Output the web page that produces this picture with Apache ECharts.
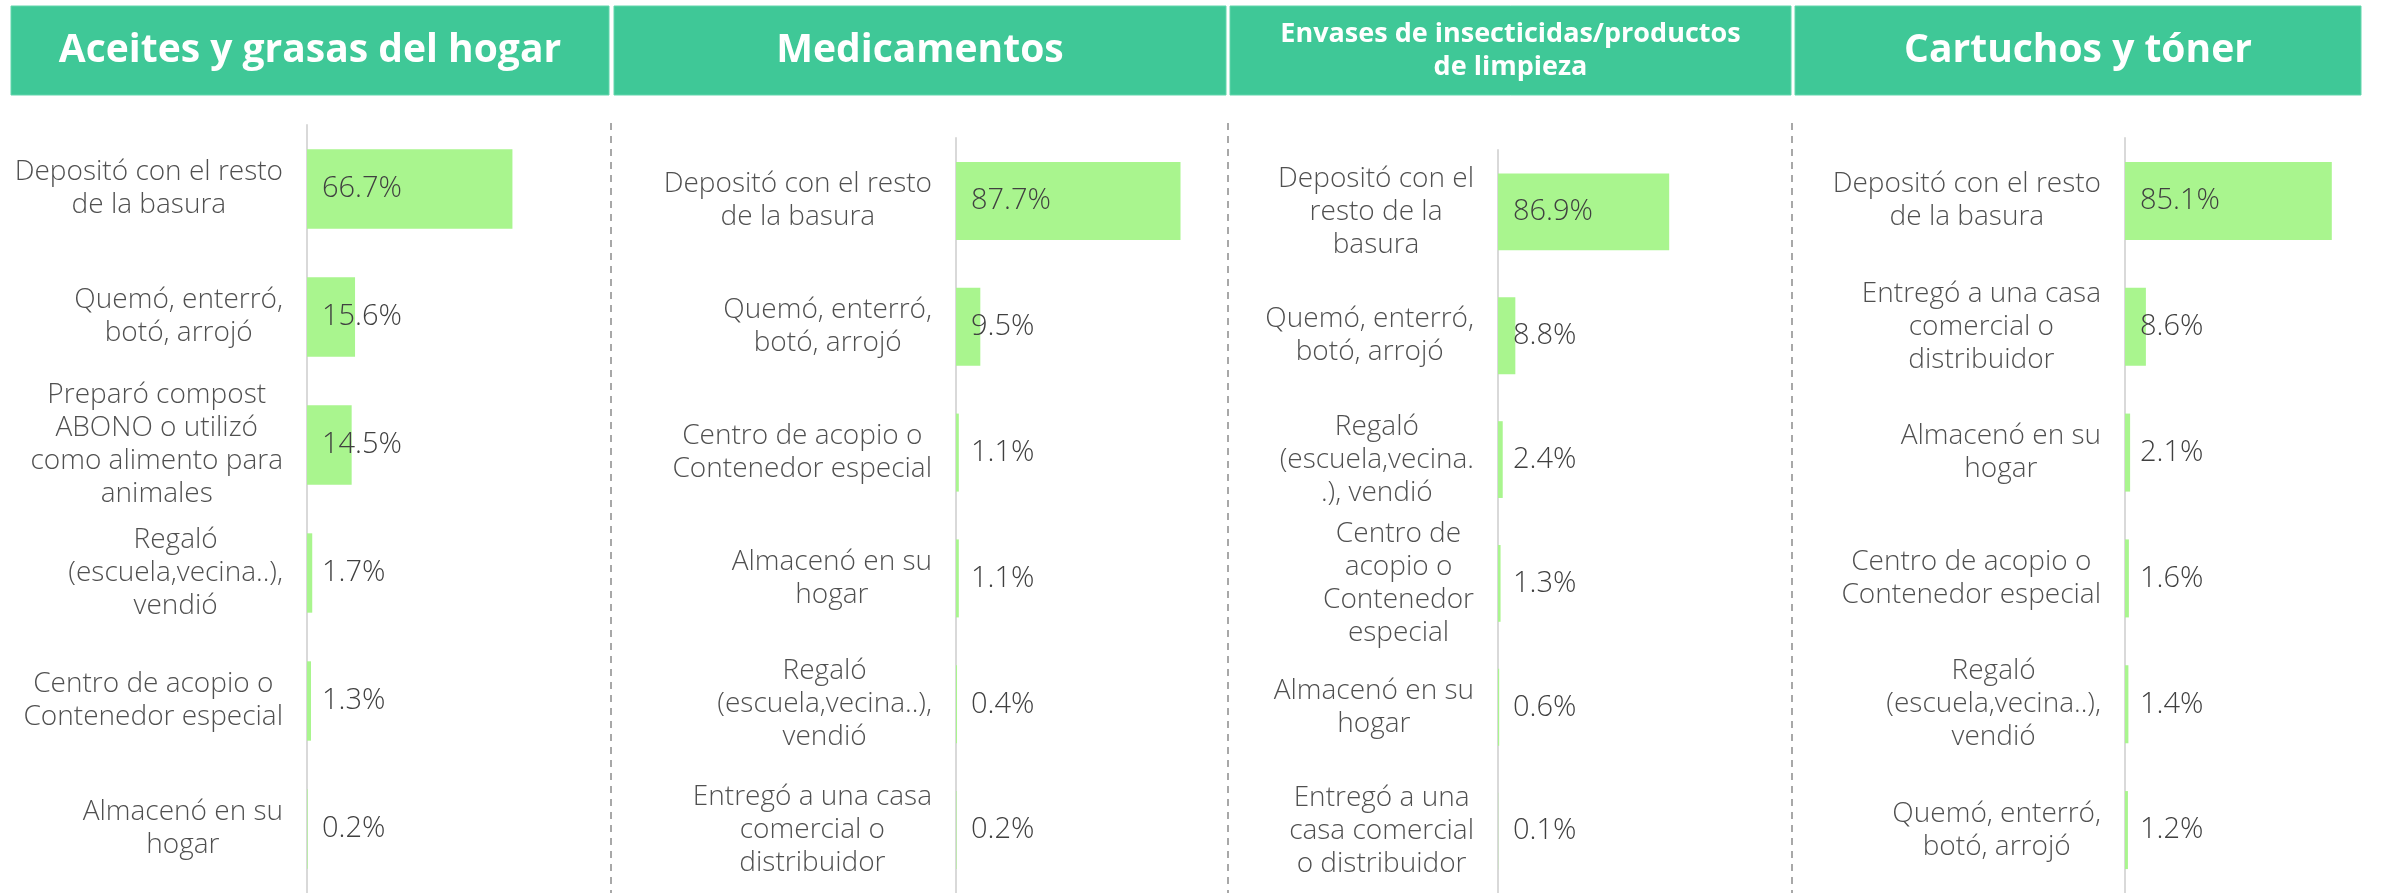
<!DOCTYPE html>
<html>
<head>
<meta charset="utf-8">
<script src="https://cdn.jsdelivr.net/npm/echarts@6/dist/echarts.min.js"></script>
<style>
  html, body { margin: 0; padding: 0; background: #fff; }
  #chart { width: 2387px; height: 893px; }
</style>
</head>
<body>
<div id="chart"></div>
<script>
// panel titles
var titles = [
  'Aceites y grasas del hogar',
  'Medicamentos',
  'Envases de insecticidas/productos\nde limpieza',
  'Cartuchos y tóner'
];

// Aceites y grasas del hogar
var aceitesCats = [
  'Depositó con el resto\nde la basura',
  'Quemó, enterró,\nbotó, arrojó',
  'Preparó compost\nABONO o utilizó\ncomo alimento para\nanimales',
  'Regaló\n(escuela,vecina..),\nvendió',
  'Centro de acopio o\nContenedor especial',
  'Almacenó en su\nhogar'
];
var aceitesVals = [66.7, 15.6, 14.5, 1.7, 1.3, 0.2];

// Medicamentos
var medCats = [
  'Depositó con el resto\nde la basura',
  'Quemó, enterró,\nbotó, arrojó',
  'Centro de acopio o\nContenedor especial',
  'Almacenó en su\nhogar',
  'Regaló\n(escuela,vecina..),\nvendió',
  'Entregó a una casa\ncomercial o\ndistribuidor'
];
var medVals = [87.7, 9.5, 1.1, 1.1, 0.4, 0.2];

// Envases de insecticidas/productos de limpieza
var envasesCats = [
  'Depositó con el\nresto de la\nbasura',
  'Quemó, enterró,\nbotó, arrojó',
  'Regaló\n(escuela,vecina.\n.), vendió',
  'Centro de\nacopio o\nContenedor\nespecial',
  'Almacenó en su\nhogar',
  'Entregó a una\ncasa comercial\no distribuidor'
];
var envasesVals = [86.9, 8.8, 2.4, 1.3, 0.6, 0.1];

// Cartuchos y tóner
var cartuchosCats = [
  'Depositó con el resto\nde la basura',
  'Entregó a una casa\ncomercial o\ndistribuidor',
  'Almacenó en su\nhogar',
  'Centro de acopio o\nContenedor especial',
  'Regaló\n(escuela,vecina..),\nvendió',
  'Quemó, enterró,\nbotó, arrojó'
];
var cartuchosVals = [85.1, 8.6, 2.1, 1.6, 1.4, 1.2];

var panels = [
  { cats: aceitesCats, vals: aceitesVals },
  { cats: medCats, vals: medVals },
  { cats: envasesCats, vals: envasesVals },
  { cats: cartuchosCats, vals: cartuchosVals }
];

// layout of each panel (axis x, top, width for 100%, height of 6 bands)
var grids = [
  { left: 307, top: 125, width: 308, height: 780 },
  { left: 956, top: 138, width: 256, height: 771 },
  { left: 1498, top: 150, width: 197, height: 750 },
  { left: 2125, top: 138, width: 243, height: 766 }
];
var headers = [
  { x: 11, w: 598, size: 39 },
  { x: 614, w: 612, size: 39 },
  { x: 1230, w: 561, size: 27 },
  { x: 1795, w: 566, size: 39 }
];
var dividers = [611, 1228, 1792];

var FONT = '"Open Sans"';
var GREEN = '#3FC897';
var BAR = '#A9F58E';

function centered(v) {
  return v.split('\n').map(function (l) { return '{c|' + l + '}'; }).join('\n');
}

var chart = echarts.init(document.getElementById('chart'));

var option = {
  animation: false,
  backgroundColor: '#fff',
  grid: grids.map(function (g) {
    return { left: g.left, top: g.top, width: g.width, height: g.height, containLabel: false };
  }),
  xAxis: panels.map(function (p, i) {
    return { type: 'value', gridIndex: i, min: 0, max: 100, show: false };
  }),
  yAxis: panels.map(function (p, i) {
    return {
      type: 'category',
      gridIndex: i,
      inverse: true,
      data: p.cats,
      axisLine: { show: true, lineStyle: { color: '#D9D9D9', width: 2 } },
      axisTick: { show: false },
      axisLabel: {
        align: 'right',
        margin: 24,
        formatter: centered,
        rich: {
          c: {
            align: 'center',
            fontFamily: FONT,
            fontWeight: 300,
            fontSize: 28,
            lineHeight: 33,
            color: '#505050'
          }
        }
      }
    };
  }),
  series: panels.map(function (p, i) {
    return {
      type: 'bar',
      xAxisIndex: i,
      yAxisIndex: i,
      data: p.vals,
      barCategoryGap: '38%',
      itemStyle: { color: BAR },
      label: {
        show: true,
        position: 'insideLeft',
        distance: 15,
        fontFamily: FONT,
        fontWeight: 300,
        fontSize: 29,
        color: '#404040',
        formatter: function (d) { return d.value.toFixed(1) + '%'; }
      }
    };
  }),
  graphic: []
};

headers.forEach(function (h, i) {
  option.graphic.push({
    type: 'rect',
    shape: { x: h.x, y: 6, width: h.w, height: 89 },
    style: { fill: GREEN, stroke: '#62D6AC', lineWidth: 1 },
    silent: true
  });
  option.graphic.push({
    type: 'text',
    x: h.x + h.w / 2,
    y: 51,
    style: {
      text: titles[i],
      fill: '#fff',
      font: 'bold ' + h.size + 'px ' + FONT,
      lineHeight: 33,
      align: 'center',
      verticalAlign: 'middle'
    },
    silent: true
  });
});

dividers.forEach(function (x) {
  option.graphic.push({
    type: 'line',
    shape: { x1: x, y1: 123, x2: x, y2: 893 },
    style: { stroke: '#8C8C8C', lineWidth: 1.5, lineDash: [7, 6] },
    silent: true
  });
});

chart.setOption(option);
</script>
</body>
</html>
